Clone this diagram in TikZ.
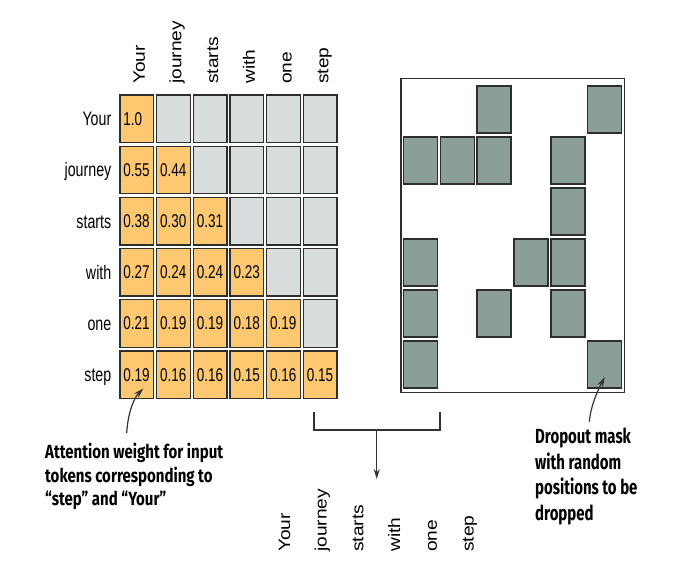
\documentclass[tikz,border=0pt]{standalone}
\usepackage{fontspec}
\setmainfont{Liberation Sans}
\newfontfamily\hfont[FakeStretch=0.73]{Liberation Sans}
\newfontfamily\vfont[FakeStretch=1.16]{Liberation Sans}
\newfontfamily\annfont[FakeStretch=0.79]{Fira Sans}
\newfontfamily\annrfont[FakeStretch=0.73]{Fira Sans}
\usetikzlibrary{arrows.meta}
\definecolor{wfill}{HTML}{FDC870}
\definecolor{efill}{HTML}{D8DEDD}
\definecolor{mfill}{HTML}{8B9E9A}
\definecolor{cline}{HTML}{2E2E2E}
\definecolor{aline}{HTML}{333333}
\begin{document}
\begin{tikzpicture}[x=1pt,y=-1pt,
  cellbox/.style={draw=cline, line width=1.3pt, minimum width=33.5pt, minimum height=47.5pt, inner sep=0pt, outer sep=0pt, anchor=north west},
  maskcell/.style={draw=cline, line width=1.3pt, fill=mfill, minimum width=34pt, minimum height=47pt, inner sep=0pt, outer sep=0pt, anchor=north west},
  numtxt/.style={font=\hfont\fontsize{18.5}{20}\selectfont, inner sep=0pt, text=black},
  rowlab/.style={font=\hfont\fontsize{19.5}{22}\selectfont, inner sep=0pt, text=black},
  collab/.style={font=\vfont\fontsize{16.5}{18}\selectfont, inner sep=0pt, text=black, rotate=90},
  ann/.style={font=\annfont\bfseries\fontsize{19}{23.5}\selectfont, inner sep=0pt, align=left, text=black},
  annr/.style={font=\annrfont\bfseries\fontsize{20.5}{25.5}\selectfont, inner sep=0pt, align=left, text=black},
  conn/.style={draw=aline, line width=1.2pt},
  tip/.style={-{Stealth[length=10pt,width=6pt]}}
]
\useasboundingbox (0,0) rectangle (687,562);
\fill[white] (0,0) rectangle (687,562);

% attention weight grid
\foreach \r in {1,...,6}{
  \foreach \c in {1,...,6}{
    \pgfmathsetmacro\xx{120+36.7*(\c-1)}
    \pgfmathsetmacro\yy{95+51.2*(\r-1)}
    \ifnum\c>\r
      \node[cellbox, fill=efill] (c\r\c) at (\xx,\yy) {};
    \else
      \node[cellbox, fill=wfill] (c\r\c) at (\xx,\yy) {};
    \fi
  }
}

% numbers
\foreach \r/\c/\v in {1/1/1.0,
  2/1/0.55, 2/2/0.44,
  3/1/0.38, 3/2/0.30, 3/3/0.31,
  4/1/0.27, 4/2/0.24, 4/3/0.24, 4/4/0.23,
  5/1/0.21, 5/2/0.19, 5/3/0.19, 5/4/0.18, 5/5/0.19,
  6/1/0.19, 6/2/0.16, 6/3/0.16, 6/4/0.15, 6/5/0.16, 6/6/0.15}{
  \node[numtxt, anchor=west] (n\r\c) at ([xshift=3.2pt]c\r\c.west) {\v};
}

% row labels
\foreach \r/\t in {1/Your, 2/journey, 3/starts, 4/with, 5/one, 6/step}{
  \node[rowlab, anchor=base east] (rl\r) at ([xshift=-8.5pt, yshift=-7pt]c\r1.west) {\t};
}

% column labels
\foreach \c/\t in {1/Your, 2/journey, 3/starts, 4/with, 5/one, 6/step}{
  \node[collab, anchor=base west] (cl\c) at ([xshift=8pt, yshift=11pt]c1\c.north) {\t};
}

% dropout mask
\node[draw=cline, line width=1.5pt, minimum width=223.3pt, minimum height=314.4pt, inner sep=0pt, outer sep=0pt, anchor=north west] (mask) at (401,78.3) {};
\foreach \r/\c in {1/3, 1/6, 2/1, 2/2, 2/3, 2/5, 3/5, 4/1, 4/4, 4/5, 5/1, 5/3, 5/5, 6/1, 6/6}{
  \pgfmathsetmacro\xx{403.3+36.9*(\c-1)}
  \pgfmathsetmacro\yy{86+51*(\r-1)}
  \node[maskcell] (m\r\c) at (\xx,\yy) {};
}

% bracket and arrow
\coordinate (brl) at (314,412);
\coordinate (brr) at (440,412);
\coordinate (brm) at (376.7,430);
\coordinate (brt) at (376.7,479);
\draw[conn] (brl) -- (brl |- brm) -- (brr |- brm) -- (brr);
\draw[conn, tip] (brm) -- (brt);

% bottom labels
\foreach \i/\t in {1/Your, 2/journey, 3/starts, 4/with, 5/one, 6/step}{
  \pgfmathsetmacro\xx{290+36.7*(\i-1)}
  \node[collab, anchor=base west] (bl\i) at (\xx,552) {\t};
}

% annotations
\node[ann, anchor=north west] (annL) at (45,443) {Attention weight for input\\tokens corresponding to\\“step” and “Your”};
\node[annr, anchor=north west] (annR) at (535,428) {Dropout mask\\with random\\positions to be\\dropped};

\coordinate (aL) at (126.7,433);
\draw[conn, tip] (aL) .. controls (128,412) and (134,398) .. ([xshift=6.5pt, yshift=10pt]c61.south);
\coordinate (aR) at (589.3,421.7);
\draw[conn, tip] (aR) .. controls (591,405) and (597,392) .. ([yshift=11pt]m66.south);
\end{tikzpicture}
\end{document}
